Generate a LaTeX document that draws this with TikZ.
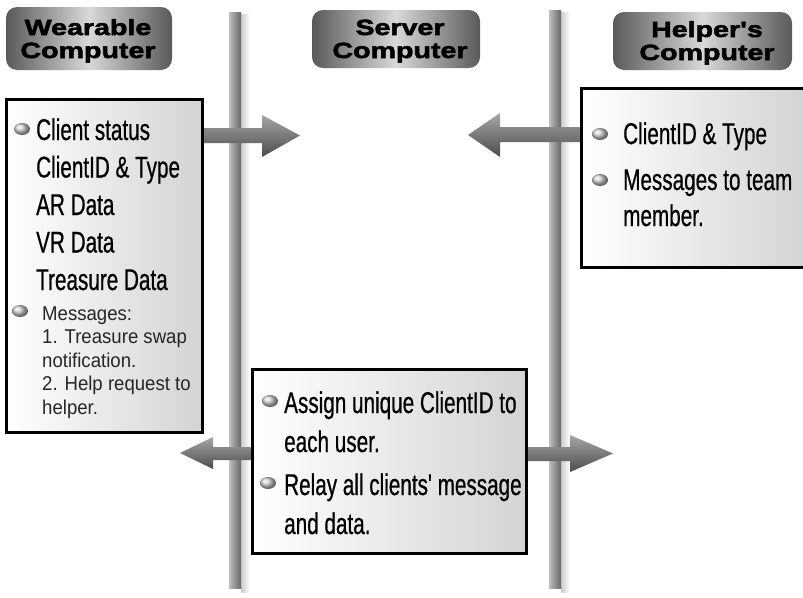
\documentclass[tikz,border=0pt]{standalone}
\usepackage{fontspec}
\setmainfont{Liberation Sans}
\newfontfamily\bigf[FakeStretch=0.69,RawFeature={embolden=0.6}]{Liberation Sans}
\newfontfamily\smallf[FakeStretch=0.93]{Liberation Sans}
\newfontfamily\headf[FakeStretch=1.3,RawFeature={embolden=2.5}]{Liberation Sans}
\begin{document}
\begin{tikzpicture}[x=1pt,y=-1pt,
  bigtxt/.style={anchor=base west, inner sep=0pt, font=\bigf\fontsize{30}{32}\selectfont},
  smalltxt/.style={anchor=base west, inner sep=0pt, font=\smallf\fontsize{20}{22}\selectfont, text=black!85},
  headtxt/.style={anchor=base, inner sep=0pt, font=\headf\bfseries\fontsize{22}{24}\selectfont},
  infobox/.style={draw=black, line width=1.6pt, left color=white, right color=black!17, inner sep=0pt},
  headbox/.style={rounded corners=11pt, inner sep=0pt, left color=black!65, right color=black!65, middle color=black!15},
  polestyle/.style={left color=black!25, right color=black!60},
  poleshadow/.style={left color=black!20, right color=white},
  arrowstyle/.style={top color=black!35, bottom color=black!70},
  bulletball/.style={ball color=black!18}
]
\useasboundingbox[fill=white] (0,0) rectangle (803,597);

% poles
\shade[poleshadow] (241,14) rectangle (250,592);
\shade[polestyle] (229,12) rectangle (241,588);
\shade[poleshadow] (561,12) rectangle (570,592);
\shade[polestyle] (549,10) rectangle (561,588);

% header boxes
\node[headbox, minimum width=166pt, minimum height=63pt] (hwear) at (89,38.5) {};
\node[headbox, minimum width=168pt, minimum height=58pt] (hserv) at (396,39) {};
\node[headbox, minimum width=179pt, minimum height=58pt] (hhelp) at (702.5,41) {};
\node[headtxt] (hw1) at (88,35) {Wearable};
\node[headtxt] (hw2) at (88,58) {Computer};
\node[headtxt] (hs1) at (400,35) {Server};
\node[headtxt] (hs2) at (400,58) {Computer};
\node[headtxt] (hh1) at (707,37) {Helper's};
\node[headtxt] (hh2) at (707,60) {Computer};

% info boxes
\node[infobox, minimum width=195pt, minimum height=332pt] (wear) at (104.5,266) {};
\node[infobox, minimum width=224pt, minimum height=178pt] (help) at (694,178) {};
\node[infobox, minimum width=273pt, minimum height=183pt] (serv) at (389.5,461.5) {};

% arrows
\shade[arrowstyle] (wear.east |- 0,128) -- (262,128) -- (262,115) -- (300,135.5) -- (262,157) -- (262,143) -- (wear.east |- 0,143) -- cycle;
\shade[arrowstyle] (help.west |- 0,127) -- (500,127) -- (500,113) -- (468,135) -- (500,157) -- (500,142) -- (help.west |- 0,142) -- cycle;
\shade[arrowstyle] (serv.west |- 0,447) -- (213,447) -- (213,437) -- (180,453) -- (213,469) -- (213,460) -- (serv.west |- 0,460) -- cycle;
\shade[arrowstyle] (serv.east |- 0,447) -- (570,447) -- (570,435) -- (613,453.5) -- (570,472) -- (570,461) -- (serv.east |- 0,461) -- cycle;

% redraw box borders over arrow ends
\draw[line width=1.6pt] (wear.north west) rectangle (wear.south east);
\draw[line width=1.6pt] (help.north west) rectangle (help.south east);
\draw[line width=1.6pt] (serv.north west) rectangle (serv.south east);

% bullets
\shade[bulletball] (22,129) ellipse (8 and 6);
\shade[bulletball] (20,311) ellipse (8 and 6);
\shade[bulletball] (600,134) ellipse (8 and 6);
\shade[bulletball] (600,180) ellipse (8 and 6);
\shade[bulletball] (270,401) ellipse (8 and 6);
\shade[bulletball] (268,483) ellipse (8 and 6);

% wearable texts
\node[bigtxt] (w1) at (36,140) {Client status};
\node[bigtxt] (w2) at (36,177.5) {ClientID \& Type};
\node[bigtxt] (w3) at (36,215) {AR Data};
\node[bigtxt] (w4) at (36,252.5) {VR Data};
\node[bigtxt] (w5) at (36,290) {Treasure Data};
\node[smalltxt] (m1) at (42,320) {Messages:};
\node[smalltxt] (m2) at (42,343.5) {1. Treasure swap};
\node[smalltxt] (m3) at (42,367) {notification.};
\node[smalltxt] (m4) at (42,390.5) {2. Help request to};
\node[smalltxt] (m5) at (42,414) {helper.};

% helper texts
\node[bigtxt] (h1) at (623,144) {ClientID \& Type};
\node[bigtxt] (h2) at (623,190) {Messages to team};
\node[bigtxt] (h3) at (623,226) {member.};

% server texts
\node[bigtxt] (s1) at (284,413) {Assign unique ClientID to};
\node[bigtxt] (s2) at (284,452) {each user.};
\node[bigtxt] (s3) at (284,495) {Relay all clients' message};
\node[bigtxt] (s4) at (284,534) {and data.};
\end{tikzpicture}
\end{document}
